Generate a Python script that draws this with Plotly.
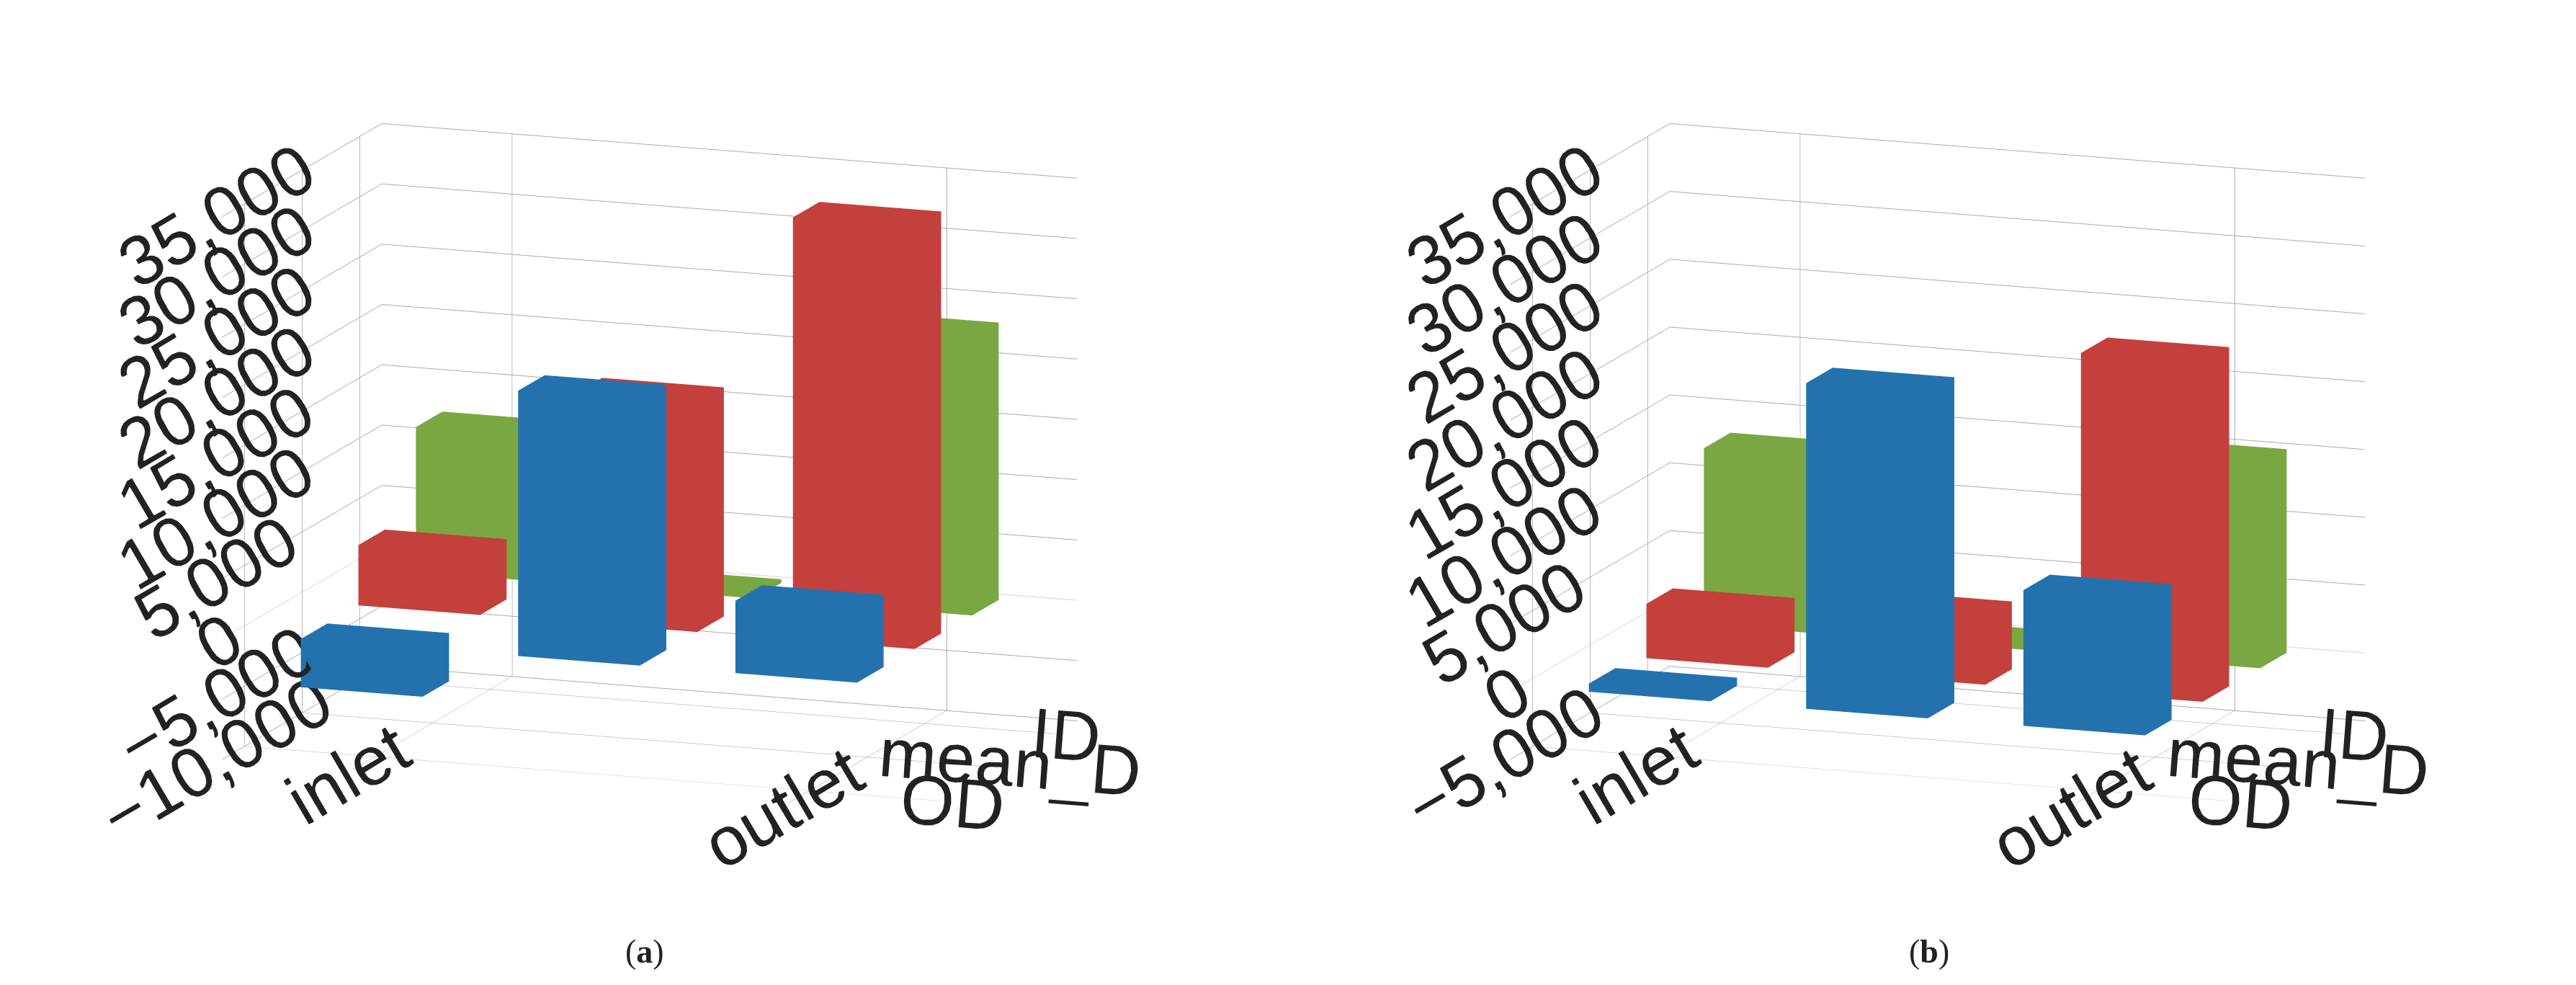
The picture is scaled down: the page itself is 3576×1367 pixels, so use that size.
import plotly.graph_objects as go

categories = ["inlet", "", "outlet"]
series = ["OD", "mean_D", "ID"]
colors = ["#2a86cc", "#e54b47", "#8fc44d"]

vals_a = {
    "OD": [-4000, 22000, 6000],
    "mean_D": [5000, 19000, 35000],
    "ID": [12000, 0, 23000],
}
vals_b = {
    "OD": [600, 24000, 10000],
    "mean_D": [4000, 5000, 25000],
    "ID": [13000, 300, 15000],
}


def box(x, y, z, color, scene):
    w, d = 0.28, 0.3
    xs = [x - w, x + w, x + w, x - w, x - w, x + w, x + w, x - w]
    ys = [y - d, y - d, y + d, y + d, y - d, y - d, y + d, y + d]
    z0, z1 = min(0, z), max(0, z)
    if z1 - z0 < 300:
        z1 = z0 + 300
    zs = [z0] * 4 + [z1] * 4
    i = [0, 0, 4, 4, 0, 0, 1, 1, 2, 2, 3, 3]
    j = [1, 2, 5, 6, 1, 5, 2, 6, 3, 7, 0, 4]
    k = [2, 3, 6, 7, 5, 4, 6, 5, 7, 6, 4, 7]
    return go.Mesh3d(x=xs, y=ys, z=zs, i=i, j=j, k=k, color=color,
                     flatshading=True, scene=scene, showscale=False,
                     lighting=dict(ambient=0.85, diffuse=0.35, specular=0.05, fresnel=0),
                     lightposition=dict(x=-100, y=-300, z=300), hoverinfo="skip")


fig = go.Figure()
for scene, vals in [("scene", vals_a), ("scene2", vals_b)]:
    for si, s in enumerate(series):
        for ci, v in enumerate(vals[s]):
            fig.add_trace(box(ci, si * 1.3, v, colors[si], scene))


def scene_cfg(zr, dom):
    return dict(
        domain=dict(x=dom, y=[0.06, 1]),
        xaxis=dict(title="", tickvals=[0, 2], ticktext=["inlet", "outlet"], range=[-0.6, 2.6],
                   showbackground=False, gridcolor="#aaa", tickfont=dict(size=34)),
        yaxis=dict(title="", tickvals=[0, 1.3, 2.6], ticktext=series, range=[-0.5, 3.1],
                   showbackground=False, gridcolor="#aaa", tickfont=dict(size=34)),
        zaxis=dict(title="", range=zr, dtick=5000, tickformat=",d", showbackground=False,
                   gridcolor="#aaa", tickfont=dict(size=34)),
        aspectmode="manual", aspectratio=dict(x=1.6, y=1.0, z=1.2),
        camera=dict(eye=dict(x=0.55, y=-1.5, z=0.35), projection=dict(type="orthographic")),
    )


fig.update_layout(
    width=3576, height=1367, paper_bgcolor="white", showlegend=False,
    font=dict(family="Liberation Sans", color="#222"),
    margin=dict(l=0, r=0, t=0, b=0),
    scene=scene_cfg([-10000, 35000], [0.0, 0.5]),
    scene2=scene_cfg([-5000, 35000], [0.5, 1.0]),
    annotations=[
        dict(text="(<b>a</b>)", x=0.24, y=0.02, xref="paper", yref="paper", showarrow=False,
             font=dict(size=46, family="Liberation Serif")),
        dict(text="(<b>b</b>)", x=0.755, y=0.02, xref="paper", yref="paper", showarrow=False,
             font=dict(size=46, family="Liberation Serif")),
    ],
)
fig.write_html("out.html")
